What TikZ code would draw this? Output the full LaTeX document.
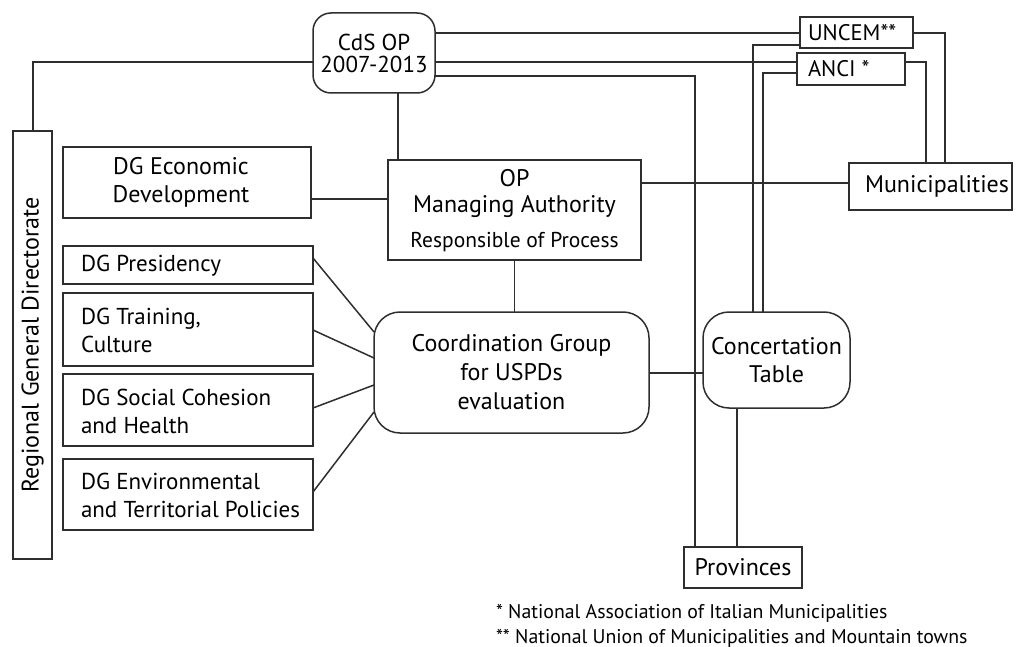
\documentclass[tikz,border=0pt]{standalone}
\usepackage{fontspec}
\setmainfont{PT Sans}
\begin{document}
\begin{tikzpicture}[x=1pt,y=-1pt,
  every node/.style={inner sep=0pt, outer sep=0pt},
  ink/.style={draw=black!82, line width=1.5pt},
  txt/.style={font=\fontsize{24}{28}\selectfont},
  box/.style={ink, rectangle, txt, align=center},
  rbox/.style={box, rounded corners=22pt},
  dgbox/.style={box, minimum width=250pt},
  dglabel/.style={anchor=west, align=left, font=\fontsize{23}{28}\selectfont},
  tag/.style={anchor=west, font=\fontsize{22.5}{26}\selectfont},
  link/.style={ink, line join=miter}
]
\useasboundingbox (0,0) rectangle (1016,647);

% governing bodies
\node[rbox, minimum width=122pt, minimum height=80pt, rounded corners=18pt,
      font=\fontsize{23}{22}\selectfont] (cds) at (374,53) {CdS OP\\2007-2013};
\node[box, minimum width=113pt, minimum height=31pt] (uncem) at (856.5,32.5) {};
\node[tag] at (808,32.5) {UNCEM**};
\node[box, minimum width=108pt, minimum height=32pt] (anci) at (851,69) {};
\node[tag] at (808,69) {ANCI *};

% regional directorate column
\node[box, minimum width=39pt, minimum height=428pt] (rgd) at (32.5,345) {};
\node[rotate=90, txt] at (rgd.center) {Regional General Directorate};

\node[box, minimum width=248pt, minimum height=71pt] (dgecon) at (187,182.5) {};
\node[txt, align=center] at (181,182.5) {DG Economic\\Development};
\node[box, minimum width=253pt, minimum height=100pt] (opma) at (514.5,210) {};
\node[txt] at (514.5,178) {OP};
\node[txt] at (514.5,207) {Managing Authority};
\node[font=\fontsize{21.5}{24}\selectfont] at (514.5,242) {Responsible of Process};
\node[box, minimum width=163pt, minimum height=47pt] (munic) at (930.5,186.5) {};
\node[txt] at (937,186.5) {Municipalities};

% directorates general
\node[dgbox, minimum height=38pt] (dgpres) at (188,265) {};
\node[dglabel] at (81,266) {DG Presidency};
\node[dgbox, minimum height=73pt] (dgtrain) at (188,329.5) {};
\node[dglabel] at (81,330.5) {DG Training,\\Culture};
\node[dgbox, minimum height=72pt] (dgsoc) at (188,410) {};
\node[dglabel] at (81,411) {DG Social Cohesion\\and Health};
\node[dgbox, minimum height=71pt] (dgenv) at (188,494.5) {};
\node[dglabel] at (81,495.5) {DG Environmental\\and Territorial Policies};

% coordination and concertation
\node[rbox, minimum width=275pt, minimum height=121pt, rounded corners=26pt,
      font=\fontsize{24}{29}\selectfont] (coord) at (511.5,372.5) {Coordination Group\\for USPDs\\evaluation};
\node[rbox, minimum width=147pt, minimum height=96pt, rounded corners=26pt] (conc) at (776.5,360) {Concertation\\Table};
\node[box, minimum width=118pt, minimum height=41pt] (prov) at (743,567.5) {Provinces};

% footnotes
\node[anchor=west, font=\fontsize{19.8}{22}\selectfont] (fn1) at (496,613) {* National Association of Italian Municipalities};
\node[anchor=west, font=\fontsize{19.8}{22}\selectfont] (fn2) at (496,638) {** National Union of Municipalities and Mountain towns};

% connectors
\draw[link] (cds.west |- 0,62) -| (rgd.north -| 33,0);
\draw[link] (cds.east |- 0,33) -- (uncem.west |- 0,33);
\draw[link] (cds.east |- 0,62) -- (anci.west |- 0,62);
\draw[link] (cds.east |- 0,76) -| (prov.north -| 695,0);
\draw[link] (cds.south -| 398,0) -- (opma.north -| 398,0);
\draw[link] (dgecon.east |- 0,199) -- (opma.west |- 0,199);
\draw[link] (opma.east |- 0,183) -- (munic.west |- 0,183);
\draw[link] (opma.south) -- (coord.north -| opma.south);
\draw[link] (coord.east |- 0,373) -- (conc.west |- 0,373);
\draw[link] (conc.north -| 753,0) |- (uncem.west |- 0,45);
\draw[link] (conc.north -| 763,0) |- (anci.west |- 0,73);
\draw[link] (uncem.east |- 0,33) -| (munic.north -| 945,0);
\draw[link] (anci.east |- 0,62) -| (munic.north -| 926,0);
\draw[link] (conc.south -| 737,0) -- (prov.north -| 737,0);
\draw[link] (dgpres.east |- 0,258) -- (coord.west |- 0,332);
\draw[link] (dgtrain.east |- 0,330) -- (coord.west |- 0,358);
\draw[link] (dgsoc.east |- 0,408) -- (coord.west |- 0,385);
\draw[link] (dgenv.east |- 0,492) -- (coord.west |- 0,412);
\end{tikzpicture}
\end{document}
